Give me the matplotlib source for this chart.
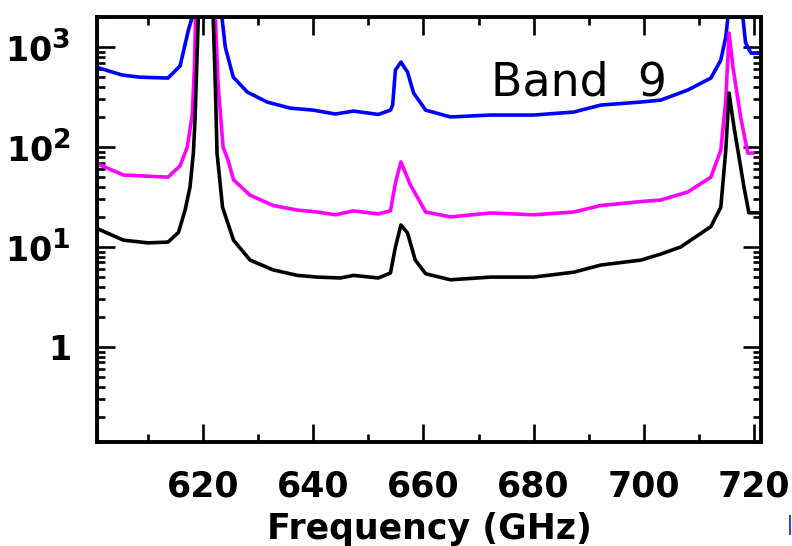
import matplotlib
matplotlib.use("Agg")
import matplotlib.pyplot as plt
import matplotlib._mathtext as mathtext_core
from matplotlib.ticker import FixedLocator, FixedFormatter, LogLocator, NullFormatter
from matplotlib.lines import Line2D
import numpy as np

plt.rcParams["font.family"] = ["DejaVu Sans"]
plt.rcParams["mathtext.fontset"] = "dejavusans"
# larger exponents on the decade labels
mathtext_core.SHRINK_FACTOR = 0.8

# Frequency grids (GHz) and noise curves for the three traces
freq_blue = [600.5, 605.3, 608.5, 613.6, 615.8, 617.3, 618.0, 620.5, 623.45, 624.0,
             625.45, 628.0, 631.6, 635.8, 640.0, 644.0, 647.3, 651.8, 654.0, 654.4,
             654.9, 655.9, 657.1, 658.2, 660.4, 664.9, 672.2, 680.0, 687.3, 692.2,
             699.5, 703.1, 708.0, 712.2, 714.0, 714.9, 715.3, 716.6, 718.0, 718.5,
             719.5, 721.5]
val_blue = [631, 525, 500, 490, 650, 1480, 2000, 10000, 1860, 1000,
            500, 355, 282, 245, 234, 214, 229, 212, 234, 263,
            589, 708, 562, 347, 234, 200, 209, 209, 224, 263,
            282, 295, 372, 490, 741, 1260, 2000, 8000, 2000, 1100,
            870, 870]

freq_magenta = [600.5, 605.5, 613.6, 615.8, 617.1, 618.0, 618.4, 618.6, 620.5, 622.2,
                622.7, 623.6, 624.5, 625.5, 628.5, 632.7, 637.1, 640.7, 644.0, 647.3,
                651.8, 654.0, 654.9, 655.9, 657.6, 660.4, 664.9, 672.2, 680.0, 687.3,
                692.2, 699.5, 703.1, 708.0, 712.2, 714.0, 714.9, 715.5, 716.2, 717.6,
                718.9, 719.8]
val_magenta = [69, 52.5, 50, 65, 100, 209, 631, 2000, 10000, 2000,
               417, 100, 74, 47, 33, 26, 23.4, 22.4, 21, 23,
               21.4, 23, 43.7, 71, 42, 22.4, 20, 21.9, 21, 22.4,
               26, 28.5, 29.5, 35.5, 50, 93, 295, 1380, 631, 200,
               87, 87]

freq_black = [600.5, 605.5, 610.0, 613.6, 615.5, 616.7, 617.6, 618.2, 618.5, 619.1,
              620.5, 621.8, 622.2, 622.5, 623.5, 625.5, 628.5, 632.7, 637.1, 640.7,
              644.9, 647.3, 651.8, 654.0, 654.9, 655.9, 657.1, 658.5, 660.4, 664.9,
              672.2, 680.0, 687.3, 692.2, 699.5, 703.1, 706.7, 712.2, 714.0, 714.9,
              715.5, 716.4, 718.2, 719.1, 721.5]
val_black = [15.5, 11.7, 11, 11.2, 14, 23.4, 40, 87, 186, 2000,
             10000, 2000, 400, 87, 25, 11.7, 7.4, 5.9, 5.2, 5.0,
             4.9, 5.2, 4.9, 5.5, 10, 16.6, 13.8, 7.4, 5.4, 4.7,
             5.0, 5.0, 5.6, 6.6, 7.4, 8.5, 10, 16, 25, 93,
             347, 158, 40, 22, 22]

x_major = [620, 640, 660, 680, 700, 720]
x_major_labels = ["620", "640", "660", "680", "700", "720"]
x_minor = [610, 630, 650, 670, 690, 710]
y_major = [1, 10, 100, 1000]
y_major_labels = [r"$\mathbf{1}$", r"$\mathbf{10^{1}}$", r"$\mathbf{10^{2}}$", r"$\mathbf{10^{3}}$"]

fig = plt.figure(figsize=(7.92, 5.46), dpi=100)
ax = fig.add_axes([97 / 792, 1 - 442 / 546, (761 - 97) / 792, (442 - 17) / 546])

ax.plot(freq_blue, val_blue, color="#0000ff", lw=2.6, solid_joinstyle="round")
ax.plot(freq_magenta, val_magenta, color="#ff00ff", lw=2.6, solid_joinstyle="round")
ax.plot(freq_black, val_black, color="black", lw=2.6, solid_joinstyle="round")

ax.set_yscale("log")
ax.set_xlim(600.7, 721.3)
ax.set_ylim(0.112, 2000)

ax.xaxis.set_major_locator(FixedLocator(x_major))
ax.xaxis.set_major_formatter(FixedFormatter(x_major_labels))
ax.xaxis.set_minor_locator(FixedLocator(x_minor))
ax.yaxis.set_major_locator(FixedLocator(y_major))
ax.yaxis.set_major_formatter(FixedFormatter(y_major_labels))
ax.yaxis.set_minor_locator(LogLocator(base=10, subs=np.arange(2, 10), numticks=20))
ax.yaxis.set_minor_formatter(NullFormatter())

for s in ax.spines.values():
    s.set_linewidth(2.8)

ax.tick_params(which="both", direction="in", top=True, right=True, width=1.9)
ax.tick_params(which="major", length=13)
ax.tick_params(which="minor", length=6)
ax.tick_params(axis="x", which="major", pad=20, labelsize=25)
ax.tick_params(axis="y", which="major", pad=19, labelsize=24)
for lab in ax.get_xticklabels():
    lab.set_fontweight("bold")

ax.set_xlabel("Frequency (GHz)", fontsize=25, fontweight="bold", labelpad=6)

ax.text(672.2, 331, "Band  9", fontsize=33, ha="left", va="baseline")

fig.add_artist(Line2D([790 / 792, 790 / 792], [1 - 516 / 546, 1 - 534 / 546],
                      color="#3050c0", lw=1.5))

fig.savefig("out.png", dpi=100)
